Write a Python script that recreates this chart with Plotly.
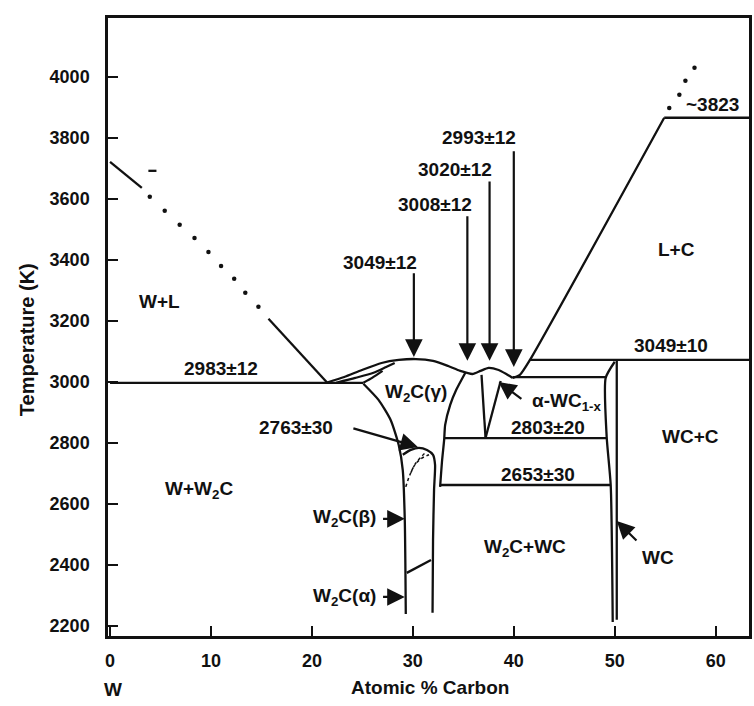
import plotly.graph_objects as go

# ---------------- axis ticks ----------------
X_TICKS = [0, 10, 20, 30, 40, 50, 60]
Y_TICKS = [2200, 2400, 2600, 2800, 3000, 3200, 3400, 3600, 3800, 4000]

# ---------------- phase boundaries (atomic % C, K) ----------------
LIQ_W_HI_X = [0.0, 3.15]
LIQ_W_HI_T = [3721, 3636]
LIQ_W_DOT_X = [3.94, 5.42, 6.9, 8.37, 9.75, 11.0, 12.3, 13.4, 14.7]
LIQ_W_DOT_T = [3607, 3561, 3515, 3472, 3426, 3380, 3338, 3292, 3246]
LIQ_W_LO_X = [15.7, 21.5]
LIQ_W_LO_T = [3207, 2998]
W_MARK_X = [3.8, 4.6]
W_MARK_T = [3692, 3692]

EUTECTIC_X = [0.0, 25.1]
EUTECTIC_T = [2997, 2997]

W2C_LIQ_X = [21.5, 23.2, 24.95, 26.9, 28.6, 30.3, 32.0, 33.5, 34.7, 35.9, 36.7, 37.5, 38.5, 39.25, 39.9]
W2C_LIQ_T = [2998, 3016, 3039, 3062, 3072, 3075, 3069, 3052, 3036, 3026, 3036, 3046, 3039, 3026, 3013]
W2C_SOL_X = [22.4, 24.3, 26.1, 27.3, 28.2]
W2C_SOL_T = [2997, 3013, 3030, 3048, 3062]
W2C_SOL2_X = [25.1, 26.0, 27.0]
W2C_SOL2_T = [2997, 3014, 3036]

W2C_LEFT_X = [25.1, 26.6, 27.8, 28.6, 29.0, 29.2, 29.3]
W2C_LEFT_T = [2994, 2941, 2875, 2793, 2711, 2548, 2239]
W2C_RIGHT_X = [35.2, 34.3, 33.7, 33.2, 33.1, 32.9, 32.7]
W2C_RIGHT_T = [3030, 2974, 2925, 2859, 2810, 2744, 2656]
W2C_BETA_X = [29.0, 29.8, 30.6, 31.4, 32.0, 32.2, 32.1, 32.0, 31.95]
W2C_BETA_T = [2761, 2777, 2784, 2777, 2761, 2728, 2646, 2482, 2243]
BETA_ALPHA_X = [29.4, 31.8]
BETA_ALPHA_T = [2374, 2416]
DASH_A_X = [29.3, 29.7, 30.3, 31.3]
DASH_A_T = [2656, 2695, 2734, 2770]
DASH_B_X = [29.8, 30.2, 30.8, 31.6]
DASH_B_T = [2702, 2728, 2748, 2761]

LIQ_C_X = [54.9, 41.6, 40.6, 39.9]
LIQ_C_T = [3866, 3072, 3023, 3013]
LIQ_C_DOT_X = [55.4, 56.4, 57.0, 57.9]
LIQ_C_DOT_T = [3898, 3941, 3987, 4030]
GRAPHITE_X = [54.9, 63.3]
GRAPHITE_T = [3866, 3866]
PERITECTIC_X = [41.6, 63.3]
PERITECTIC_T = [3072, 3072]

WC1X_TOP_X = [39.9, 49.1]
WC1X_TOP_T = [3016, 3016]
V_LEFT_X = [36.8, 37.2]
V_LEFT_T = [3023, 2816]
V_RIGHT_X = [38.7, 37.2]
V_RIGHT_T = [3003, 2816]
EUTECTOID_X = [33.1, 49.2]
EUTECTOID_T = [2816, 2816]
LOW_EUTECTOID_X = [32.7, 49.6]
LOW_EUTECTOID_T = [2662, 2662]
WC_LEFT_X = [50.0, 49.1, 49.2, 49.6, 49.8]
WC_LEFT_T = [3066, 3013, 2820, 2662, 2213]
WC_RIGHT_X = [50.2, 50.2]
WC_RIGHT_T = [3072, 2220]

# ---------------- labels ----------------
LABELS = ["3049±12", "3008±12", "3020±12", "2993±12", "~3823", "L+C", "3049±10",
          "W+L", "2983±12", "2763±30", "W+W<sub>2</sub>C", "W<sub>2</sub>C(β)",
          "W<sub>2</sub>C(α)", "W<sub>2</sub>C(γ)", "α-WC<sub>1-x</sub>", "2803±20",
          "2653±30", "WC+C", "W<sub>2</sub>C+WC", "WC"]
LABEL_X = [26.7, 32.15, 34.2, 36.6, 59.7, 56.1, 55.6,
           4.9, 11.0, 18.4, 8.8, 23.2,
           23.2, 30.3, 45.2, 43.4,
           42.4, 57.5, 41.1, 54.3]
LABEL_T = [3390, 3580, 3695, 3800, 3908, 3433, 3121,
           3262, 3043, 2849, 2646, 2554,
           2295, 2964, 2934, 2849,
           2695, 2820, 2456, 2426]

# arrows: tail -> head
ARROW_TAIL_X = [30.1, 35.4, 37.6, 40.0, 23.96, 26.9, 26.9, 40.9, 52.3]
ARROW_TAIL_T = [3361, 3548, 3662, 3761, 2849, 2551, 2295, 2941, 2475]
ARROW_HEAD_X = [30.1, 35.4, 37.6, 40.0, 30.5, 29.2, 29.2, 38.5, 50.2]
ARROW_HEAD_T = [3082, 3069, 3069, 3049, 2787, 2551, 2295, 3000, 2544]

X_TITLE = "Atomic % Carbon"
Y_TITLE = "Temperature (K)"

FONT = "Liberation Sans, Arial, sans-serif"
BLACK = "#111111"

fig = go.Figure()

solid_curves = [
    (LIQ_W_HI_X, LIQ_W_HI_T), (LIQ_W_LO_X, LIQ_W_LO_T), (W_MARK_X, W_MARK_T),
    (EUTECTIC_X, EUTECTIC_T), (W2C_LIQ_X, W2C_LIQ_T), (W2C_SOL_X, W2C_SOL_T),
    (W2C_SOL2_X, W2C_SOL2_T), (W2C_LEFT_X, W2C_LEFT_T), (W2C_RIGHT_X, W2C_RIGHT_T),
    (W2C_BETA_X, W2C_BETA_T), (BETA_ALPHA_X, BETA_ALPHA_T),
    (LIQ_C_X, LIQ_C_T), (GRAPHITE_X, GRAPHITE_T), (PERITECTIC_X, PERITECTIC_T),
    (WC1X_TOP_X, WC1X_TOP_T), (V_LEFT_X, V_LEFT_T), (V_RIGHT_X, V_RIGHT_T),
    (EUTECTOID_X, EUTECTOID_T), (LOW_EUTECTOID_X, LOW_EUTECTOID_T),
    (WC_LEFT_X, WC_LEFT_T), (WC_RIGHT_X, WC_RIGHT_T),
]
for xs, ts in solid_curves:
    fig.add_trace(go.Scatter(x=xs, y=ts, mode="lines",
                             line=dict(color=BLACK, width=2.3, shape="spline", smoothing=0.6),
                             hoverinfo="skip", showlegend=False))

for xs, ts in [(DASH_A_X, DASH_A_T), (DASH_B_X, DASH_B_T)]:
    fig.add_trace(go.Scatter(x=xs, y=ts, mode="lines",
                             line=dict(color=BLACK, width=1.5, dash="dot", shape="spline"),
                             hoverinfo="skip", showlegend=False))

for xs, ts in [(LIQ_W_DOT_X, LIQ_W_DOT_T), (LIQ_C_DOT_X, LIQ_C_DOT_T)]:
    fig.add_trace(go.Scatter(x=xs, y=ts, mode="markers",
                             marker=dict(color=BLACK, size=4.5),
                             hoverinfo="skip", showlegend=False))

annotations = []
for txt, x, t in zip(LABELS, LABEL_X, LABEL_T):
    annotations.append(dict(x=x, y=t, xref="x", yref="y", text=txt, showarrow=False,
                            xanchor="center", yanchor="middle",
                            font=dict(family=FONT, size=19, color=BLACK, weight="bold")))
for tx, tt, hx, ht in zip(ARROW_TAIL_X, ARROW_TAIL_T, ARROW_HEAD_X, ARROW_HEAD_T):
    annotations.append(dict(x=hx, y=ht, ax=tx, ay=tt, xref="x", yref="y",
                            axref="x", ayref="y", text="", showarrow=True,
                            arrowhead=2, arrowsize=1.6, arrowwidth=2.2, arrowcolor=BLACK))
annotations.append(dict(x=0.3, y=-0.087, xref="x", yref="paper", text="W", showarrow=False,
                        xanchor="center", yanchor="middle",
                        font=dict(family=FONT, size=19, color=BLACK, weight="bold")))
annotations.append(dict(x=0.502, y=-0.083, xref="paper", yref="paper", text=X_TITLE,
                        showarrow=False, xanchor="center", yanchor="middle",
                        font=dict(family=FONT, size=19, color=BLACK, weight="bold")))
annotations.append(dict(x=-0.126, y=0.479, xref="paper", yref="paper", text=Y_TITLE,
                        showarrow=False, textangle=-90, xanchor="center", yanchor="middle",
                        font=dict(family=FONT, size=20, color=BLACK, weight="bold")))

axis_common = dict(showgrid=False, zeroline=False, showline=True, linewidth=2.5,
                   linecolor=BLACK, mirror=True, ticks="inside", ticklen=10,
                   tickwidth=2, tickcolor=BLACK,
                   tickfont=dict(family=FONT, size=18, color=BLACK, weight="bold"))

fig.update_layout(
    width=754, height=706,
    margin=dict(l=108, r=2, t=18, b=70),
    paper_bgcolor="white", plot_bgcolor="white",
    xaxis=dict(range=[-0.2, 63.3], tickvals=X_TICKS, ticklabelstandoff=7, **axis_common),
    yaxis=dict(range=[2167, 4193], tickvals=Y_TICKS, ticklabelstandoff=12, **axis_common),
    annotations=annotations,
)

fig.write_html("out.html")
